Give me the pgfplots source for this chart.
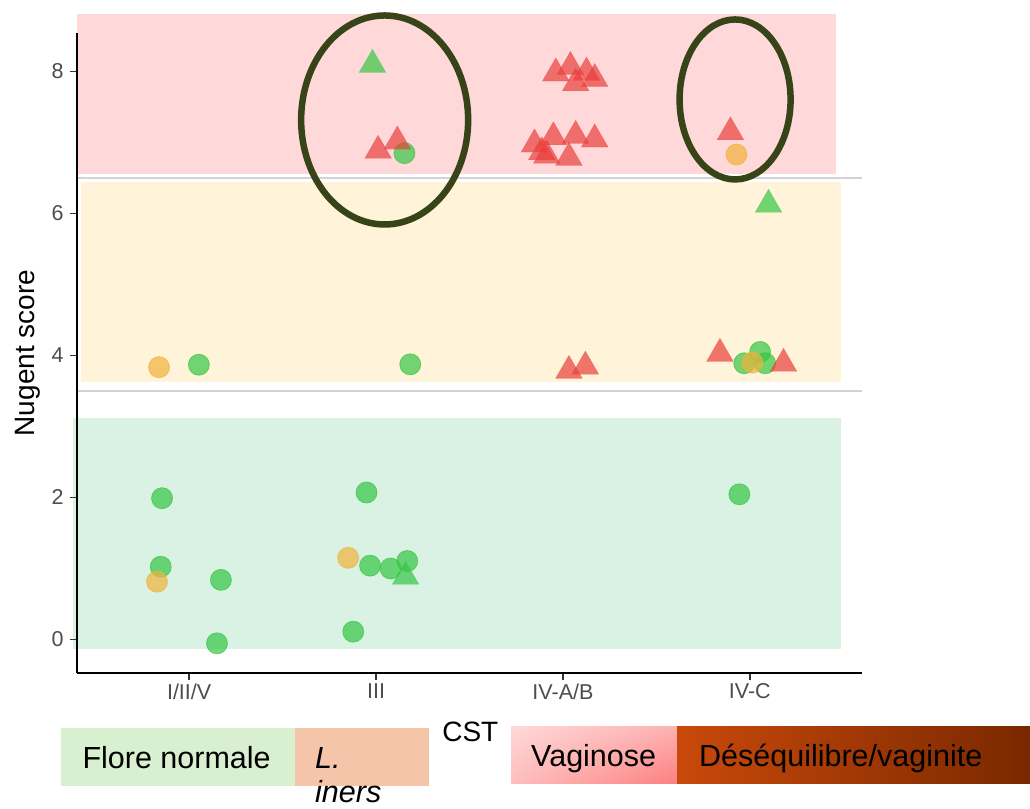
\documentclass[border=0pt]{standalone}
\usepackage{pgfplots}
\usepackage{pgfplotstable}
\pgfplotsset{compat=1.18}
\usetikzlibrary{shadings}
\usepackage{fontspec}
\setmainfont{Liberation Sans}
\definecolor{ptgreen}{HTML}{35C744}
\definecolor{ptred}{HTML}{E9403C}
\definecolor{ptorange}{HTML}{F1B23B}
\definecolor{bandpink}{HTML}{FFD8D9}
\definecolor{bandyellow}{HTML}{FFF4D9}
\definecolor{bandgreen}{HTML}{D9F2E4}
\definecolor{hlinegray}{HTML}{D3D3D3}
\definecolor{tickgray}{HTML}{4D4D4D}
\definecolor{ellcol}{HTML}{374418}
\definecolor{boxgreen}{HTML}{D9F0D0}
\definecolor{boxsalmon}{HTML}{F5C5AA}
\definecolor{vagUL}{HTML}{FFD8D8}
\definecolor{vagUR}{HTML}{FDB2B2}
\definecolor{vagLL}{HTML}{FEBEBE}
\definecolor{vagLR}{HTML}{FC8080}
\definecolor{desL}{HTML}{C9490A}
\definecolor{desR}{HTML}{7A2800}

\pgfplotstableread{
x y
1.052 3.87
0.855 1.99
0.848 1.025
1.170 0.84
1.149 -0.054
2.152 6.85
1.949 2.07
1.968 1.04
2.078 1.00
2.167 1.105
1.878 0.11
2.183 3.875
3.944 2.045
3.970 3.89
4.055 4.05
4.082 3.89
}\greencirc

\pgfplotstableread{
x y
0.839 3.835
0.828 0.814
1.851 1.15
3.928 6.83
4.013 3.90
}\orangecirc

\pgfplotstableread{
x y
1.981 8.095
2.158 0.885
4.100 6.125
}\greentri

\pgfplotstableread{
x y
2.011 6.885
2.114 7.015
2.962 7.975
3.040 8.065
3.126 7.985
3.170 7.895
3.068 7.835
2.848 6.975
2.949 7.075
3.068 7.095
3.170 7.045
2.887 6.865
2.913 6.815
3.032 6.785
3.896 7.145
3.032 3.785
3.120 3.845
3.840 4.025
4.180 3.885
}\redtri

\begin{document}
\begin{tikzpicture}
\useasboundingbox (-77pt,-135pt) rectangle (953pt,673pt);
\begin{axis}[
  at={(0pt,0pt)}, anchor=south west,
  scale only axis, width=785pt, height=640pt,
  xmin=0.4, xmax=4.6, ymin=-0.472, ymax=8.542,
  clip=false,
  axis x line*=bottom, axis y line*=left,
  axis line style={black, line width=1.6pt},
  xtick={1,2,3,4}, xticklabels={I/II/V,III,IV-A/B,IV-C},
  ytick={0,2,4,6,8},
  tick align=outside, major tick length=7pt,
  tick style={line width=1.6pt, color=black!80},
  ticklabel style={font=\fontsize{21.5}{24}\selectfont, text=tickgray},
  yticklabel style={xshift=-3pt},
  /pgf/number format/assume math mode=true,
  xlabel={CST}, ylabel={Nugent score},
  label style={font=\fontsize{28}{32}\selectfont},
  xlabel style={at={(axis description cs:0.501,-0.10625)}, anchor=base},
  ylabel style={at={(axis description cs:-0.0624,0.5)}, anchor=center},
  axis on top,
]
% background bands
\fill[bandpink] (axis cs:0.4,6.556) rectangle (axis cs:4.461,8.81);
\fill[bandyellow] (axis cs:0.421,3.627) rectangle (axis cs:4.488,6.444);
\fill[bandgreen] (axis cs:0.379,-0.134) rectangle (axis cs:4.488,3.12);
% horizontal thresholds
\addplot[hlinegray, line width=2.2pt, forget plot] coordinates {(0.4,6.5) (4.6,6.5)};
\addplot[hlinegray, line width=2.2pt, forget plot] coordinates {(0.4,3.5) (4.6,3.5)};
% points
\addplot[only marks, color=ptgreen, mark=*, mark size=10.5pt, mark options={fill=ptgreen, draw=ptgreen, fill opacity=0.7, draw opacity=0.7, line width=0.8pt}] table {\greencirc};
\addplot[only marks, color=ptorange, mark=*, mark size=10.5pt, mark options={fill=ptorange, draw=ptorange, fill opacity=0.7, draw opacity=0.7, line width=0.8pt}] table {\orangecirc};
\addplot[only marks, color=ptgreen, mark=triangle*, mark size=15.5pt, mark options={fill=ptgreen, draw=ptgreen, line width=0.1pt, fill opacity=0.7, draw opacity=0.7}] table {\greentri};
\addplot[only marks, color=ptred, mark=triangle*, mark size=15.5pt, mark options={fill=ptred, draw=ptred, line width=0.1pt, fill opacity=0.7, draw opacity=0.7}] table {\redtri};
% ellipses
\draw[ellcol, line width=6.5pt] (axis cs:2.046,7.317) ellipse [x radius=83.5pt, y radius=104.5pt];
\draw[ellcol, line width=6.5pt] (axis cs:3.921,7.606) ellipse [x radius=55.5pt, y radius=80pt];
\end{axis}
% bottom legend boxes
\fill[boxgreen] (-16pt,-55pt) rectangle (218pt,-113pt);
\fill[boxsalmon] (218pt,-55pt) rectangle (352pt,-113pt);
\shade[upper left=vagUL, upper right=vagUR, lower left=vagLL, lower right=vagLR]
  (434pt,-110pt) rectangle (600pt,-53pt);
\shade[left color=desL, right color=desR]
  (600pt,-110pt) rectangle (953pt,-53pt);
\node[anchor=base west, inner sep=0pt, font=\fontsize{30.5}{33}\selectfont] at (5.3pt,-95pt) {Flore normale};
\node[anchor=base west, inner sep=0pt, font=\fontsize{30.5}{33}\selectfont\itshape] at (238pt,-95pt) {L.};
\node[anchor=base west, inner sep=0pt, font=\fontsize{30.5}{33}\selectfont\itshape] at (238pt,-129.5pt) {iners};
\node[anchor=base west, inner sep=0pt, font=\fontsize{30.5}{33}\selectfont] at (454pt,-93.7pt) {Vaginose};
\node[anchor=base west, inner sep=0pt, font=\fontsize{30.5}{33}\selectfont] at (622pt,-93.7pt) {Déséquilibre/vaginite};
\end{tikzpicture}
\end{document}
